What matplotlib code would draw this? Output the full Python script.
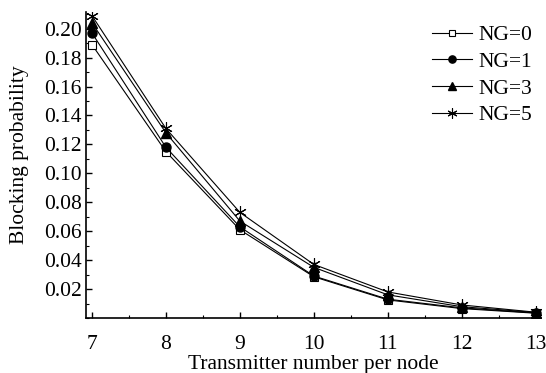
import matplotlib
matplotlib.use('Agg')
import matplotlib.pyplot as plt
from matplotlib.ticker import MultipleLocator, FormatStrFormatter

plt.rcParams['font.family'] = ['Liberation Serif', 'DejaVu Serif']

x = [7, 8, 9, 10, 11, 12, 13]
ng0 = [0.189, 0.115, 0.061, 0.0285, 0.0125, 0.0065, 0.0033]
ng1 = [0.197, 0.118, 0.063, 0.029, 0.013, 0.007, 0.0035]
ng3 = [0.204, 0.128, 0.067, 0.035, 0.016, 0.0078, 0.0038]
ng5 = [0.209, 0.131, 0.073, 0.037, 0.018, 0.009, 0.004]
labels = ['NG=0', 'NG=1', 'NG=3', 'NG=5']

fig = plt.figure(figsize=(5.46, 3.73), dpi=100)
ax = fig.add_axes([86/546, 1 - 318/373, (541-86)/546, (318-12)/373])

ax.plot(x, ng0, color='black', lw=0.8, marker='s', ms=6, mfc='white', mec='black', mew=0.8, label=labels[0])
ax.plot(x, ng1, color='black', lw=0.8, marker='o', ms=6.5, mfc='black', label=labels[1])
ax.plot(x, ng3, color='black', lw=0.8, marker='^', ms=7, mfc='black', label=labels[2])
ax.plot(x, ng5, color='black', lw=0.8, marker=(6, 2, 0), ms=9, mew=0.8, label=labels[3])

ax.set_xlim(6.92, 13.07)
ax.set_ylim(0.0, 0.2115)
ax.xaxis.set_major_locator(MultipleLocator(1))
ax.xaxis.set_minor_locator(MultipleLocator(0.5))
ax.set_yticks([0.02, 0.04, 0.06, 0.08, 0.10, 0.12, 0.14, 0.16, 0.18, 0.20])
ax.yaxis.set_minor_locator(MultipleLocator(0.01))
ax.yaxis.set_major_formatter(FormatStrFormatter('%.2f'))

for s in ['top', 'right']:
    ax.spines[s].set_visible(False)
for s in ['left', 'bottom']:
    ax.spines[s].set_linewidth(1.2)

ax.tick_params(axis='both', which='major', direction='in', length=4, width=1.0, labelsize=15.5)
ax.tick_params(axis='x', which='major', pad=12)
ax.tick_params(axis='y', which='major', pad=3)
ax.tick_params(axis='both', which='minor', direction='in', length=2, width=0.8)

ax.set_xlabel('Transmitter number per node', fontsize=15.5, labelpad=1)
ax.set_ylabel('Blocking probability', fontsize=15.5)
ax.yaxis.set_label_coords(-0.125, 0.535)

ax.legend(loc='upper right', frameon=False, fontsize=15.5, handlelength=1.85,
          labelspacing=0.31, handletextpad=0.3, markerscale=0.8,
          borderaxespad=0.0, bbox_to_anchor=(1.0, 0.985))

fig.savefig('out.png', dpi=100)
